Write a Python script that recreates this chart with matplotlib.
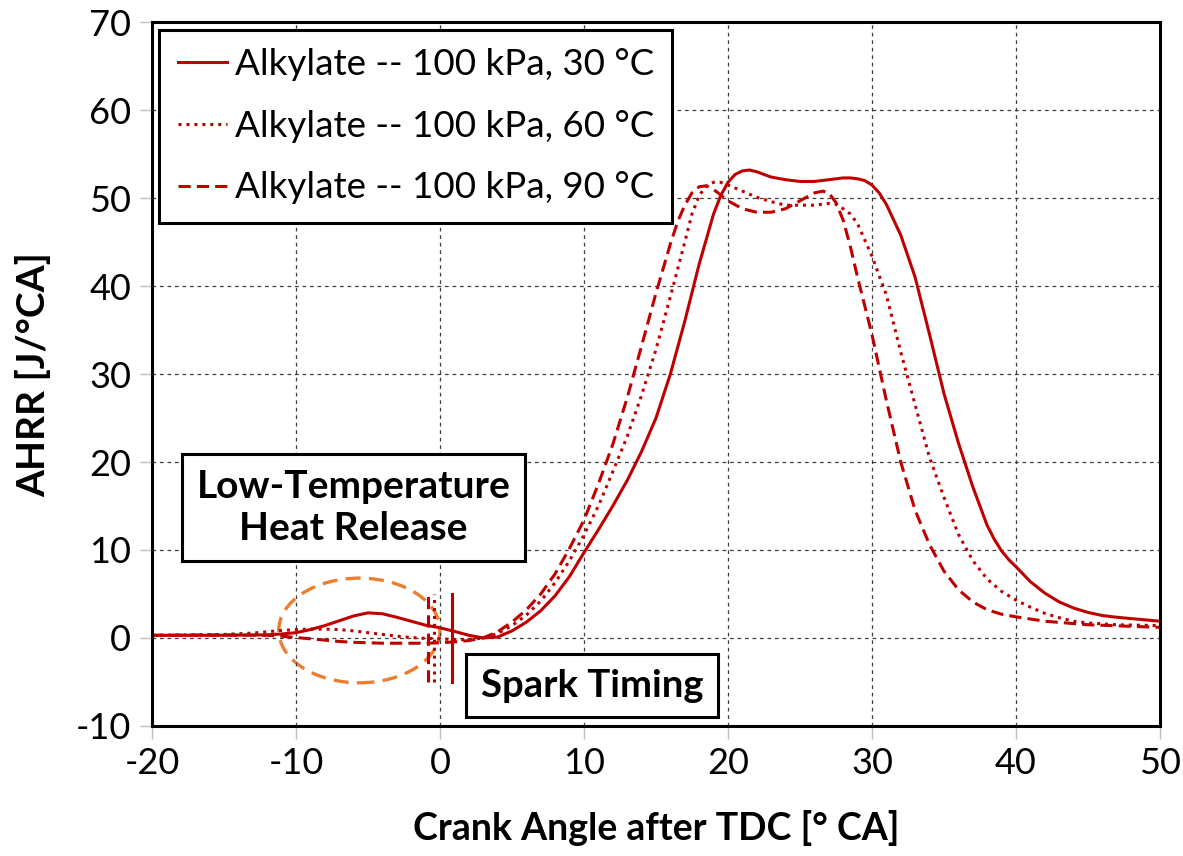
import numpy as np
import matplotlib
matplotlib.use('Agg')
import matplotlib.pyplot as plt
from matplotlib.patches import Ellipse

plt.rcParams['font.family'] = ['Lato', 'DejaVu Sans']
plt.rcParams['axes.unicode_minus'] = False

# -------------------------------- dados -------------------------------------
x30 = [-20, -15, -12, -11, -10, -9, -8, -7, -6, -5, -4, -3, -2, -1, 0, 1, 2, 3, 4,
       5, 6, 7, 8, 9, 10, 11, 12, 13, 14, 15, 16, 17, 18, 19, 19.5, 20, 20.5, 21,
       21.5, 22, 23, 24, 25, 26, 27, 28, 28.5, 29, 29.5, 30, 30.5, 31, 32, 33, 34,
       35, 36, 37, 38, 38.5, 39, 39.5, 40, 41, 42, 43, 44, 45, 46, 47, 48, 50]
y30 = [0.3, 0.3, 0.35, 0.45, 0.6, 0.95, 1.4, 1.95, 2.5, 2.85, 2.75, 2.35, 1.9,
       1.45, 1.15, 0.75, 0.3, 0.0, 0.1, 0.8, 1.8, 3.1, 4.8, 7.0, 9.7, 12.3, 15.0,
       17.9, 21.2, 25.0, 30.0, 36.0, 42.5, 48.2, 50.3, 51.8, 52.7, 53.1, 53.2,
       53.0, 52.4, 52.1, 51.9, 51.9, 52.1, 52.3, 52.3, 52.2, 52.0, 51.5, 50.6,
       49.3, 45.8, 41.0, 34.5, 27.8, 22.2, 17.2, 12.8, 11.2, 9.9, 8.9, 8.1, 6.4,
       5.1, 4.1, 3.4, 2.9, 2.55, 2.35, 2.2, 1.9]

x60 = [-20, -15, -13, -12, -11, -10, -9, -8, -7, -6, -5, -4, -3, -2, -1, 0, 1, 2,
       3, 4, 5, 6, 7, 8, 9, 10, 11, 12, 13, 14, 15, 16, 17, 17.5, 18, 18.5, 19,
       19.5, 20, 21, 22, 23, 24, 25, 26, 27, 27.5, 28, 28.5, 29, 30, 31, 32, 33,
       34, 35, 36, 37, 38, 39, 40, 41, 42, 43, 44, 45, 47, 50]
y60 = [0.3, 0.4, 0.55, 0.7, 0.85, 0.95, 1.0, 1.0, 0.95, 0.8, 0.6, 0.4, 0.2, 0.05,
       -0.05, -0.1, -0.2, -0.2, 0.0, 0.5, 1.4, 2.6, 4.2, 6.3, 8.8, 11.7, 15.0,
       18.9, 22.9, 27.6, 32.8, 38.8, 45.0, 48.2, 50.3, 51.4, 51.8, 51.8, 51.5,
       50.8, 50.1, 49.6, 49.2, 49.2, 49.2, 49.4, 49.3, 48.8, 48.2, 47.1, 43.4,
       39.0, 32.5, 26.5, 20.5, 16.0, 11.8, 8.8, 6.7, 5.3, 4.3, 3.5, 2.8, 2.3,
       1.9, 1.7, 1.5, 1.4]

x90 = [-20, -15, -12, -11, -10, -9, -8, -7, -6, -5, -4, -3, -2, -1, 0, 1, 2, 3, 4,
       5, 6, 7, 8, 9, 10, 11, 12, 13, 14, 15, 16, 16.5, 17, 17.5, 18, 18.5, 19,
       20, 21, 22, 23, 24, 25, 26, 26.6, 27, 27.5, 28, 28.5, 29, 30, 31, 32, 33,
       34, 35, 36, 37, 38, 39, 40, 42, 45, 50]
y90 = [0.3, 0.35, 0.3, 0.2, 0.05, -0.1, -0.25, -0.4, -0.5, -0.55, -0.6, -0.6,
       -0.6, -0.6, -0.55, -0.45, -0.3, 0.0, 0.7, 1.8, 3.2, 5.0, 7.3, 10.2, 13.4,
       17.5, 22.0, 27.3, 33.2, 39.2, 44.8, 47.3, 49.2, 50.6, 51.3, 51.4, 51.0,
       49.7, 48.8, 48.4, 48.4, 48.8, 49.7, 50.6, 50.8, 50.6, 49.5, 47.5, 44.5,
       41.0, 34.5, 27.0, 20.0, 14.5, 10.6, 7.6, 5.5, 4.1, 3.2, 2.7, 2.4, 1.9,
       1.5, 1.2]

rotulos = ['Alkylate -- 100 kPa, 30 °C', 'Alkylate -- 100 kPa, 60 °C',
           'Alkylate -- 100 kPa, 90 °C']
faisca = [0.85, -0.4, -0.85]  # [° CA] momento da faísca (30, 60, 90 °C)

cor = '#C00000'
estilos = ['-', (0, (1, 1.6)), (0, (4, 2))]

# -------------------------------- gráfico -----------------------------------
fig = plt.figure(figsize=(11.83, 8.56), dpi=100)
ax = fig.add_axes([0.1285, 0.152, 0.852, 0.822])

for xs, ys, ls, rot in zip([x30, x60, x90], [y30, y60, y90], estilos, rotulos):
    ax.plot(xs, ys, color=cor, lw=2.2, ls=ls, label=rot)

#   linhas da faísca
for xf, ls in zip(faisca, estilos):
    ax.plot([xf, xf], [-5, 5], color=cor, lw=2.2, ls=ls)

#   elipse da LTHR
ax.add_patch(Ellipse((-5.6, 0.85), 11.2, 11.9, fill=False, edgecolor='#ED7D31',
                     lw=2.4, ls=(0, (4.5, 2.5))))

ax.set_xlim(-20, 50)
ax.set_ylim(-10, 70)
ax.set_xticks(np.arange(-20, 51, 10))
ax.set_yticks(np.arange(-10, 71, 10))
ax.grid(True, color='#404040', ls=(0, (3, 3)), lw=0.9)
ax.tick_params(labelsize=26, length=9, width=1, color='#BFBFBF', pad=6)
for s in ax.spines.values():
    s.set_linewidth(2.2)
    s.set_color('black')

ax.set_xlabel('Crank Angle after TDC [° CA]', fontsize=27, fontweight='bold',
              labelpad=22)
ax.set_ylabel('AHRR [J/°CA]', fontsize=28, fontweight='bold', labelpad=18)

leg = ax.legend(loc='upper left', fontsize=26.5, handlelength=1.35,
                handletextpad=0.2, borderaxespad=0.2, labelspacing=0.78,
                fancybox=False, framealpha=1, edgecolor='black',
                borderpad=0.5)
leg.get_frame().set_linewidth(2.2)

caixa = dict(boxstyle='square,pad=0.38', facecolor='white', edgecolor='black', lw=2.2)
ax.text(-6.0, 14.8, 'Low-Temperature\nHeat Release', fontsize=28,
        fontweight='bold', ha='center', va='center', linespacing=1.25, bbox=caixa)
ax.text(10.55, -5.45, 'Spark Timing', fontsize=27.5, fontweight='bold',
        ha='center', va='center', bbox=caixa)

plt.savefig('out.png', dpi=100)
